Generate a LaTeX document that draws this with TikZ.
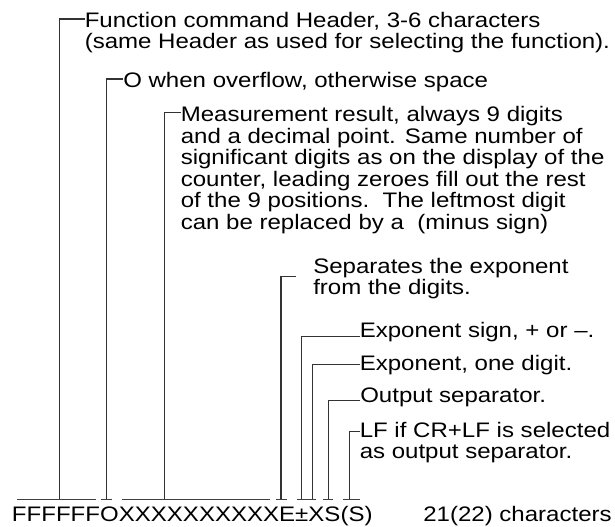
\documentclass[tikz,border=0pt]{standalone}
\usepackage{fontspec}
\setmainfont{Liberation Sans}[FakeStretch=1.145]
\usepackage{tikz}
\begin{document}
\begin{tikzpicture}[
    x=0.75pt, y=-0.75pt,
    note/.style={anchor=north west, inner sep=0pt, align=left,
      font=\fontsize{15.75pt}{16.1pt}\selectfont},
    code/.style={anchor=base west, inner sep=0pt,
      font=\fontsize{15.75pt}{16.1pt}\selectfont},
    bar/.style={draw=black!75, line width=0.8pt},
    lead/.style={draw=black!80, line width=0.8pt}
  ]
  \useasboundingbox (0,0) rectangle (615,527);

  % the output string
  \node[code] (str) at (11.7,521.7) {FFFFFFOXXXXXXXXXXE±XS(S)};
  \node[code] (count) at (423,521.7) {21(22) characters};

  % bars under each field
  \draw[bar] (17,499.5) -- (96,499.5);
  \draw[bar] (101,499.5) -- (112,499.5);
  \draw[bar] (122,499.5) -- (270,499.5);
  \draw[bar] (276,499.5) -- (287,499.5);
  \draw[bar] (297,499.5) -- (307,499.5);
  \draw[bar] (307,499.5) -- (316,499.5);
  \draw[bar] (323,499.5) -- (333,499.5);
  \draw[bar] (343,499.5) -- (360,499.5);
  \coordinate (hdrb) at (59.3,499.5);
  \coordinate (ovfb) at (106.7,499.5);
  \coordinate (measb) at (164.3,499.5);
  \coordinate (expb) at (281,499.5);
  \coordinate (signb) at (301.7,499.5);
  \coordinate (digb) at (312.3,499.5);
  \coordinate (sepb) at (328.3,499.5);
  \coordinate (lfb) at (349.5,499.5);

  % notes
  \node[note] (hdr) at (84.5,12) {Function command Header, 3-6 characters\\
    (same Header as used for selecting the function).};
  \node[note] (ovf) at (123,72) {O when overflow, otherwise space};
  \node[note] (meas) at (180.5,106.4) {Measurement result, always 9 digits\\
    and a decimal point. Same number of\\
    significant digits as on the display of the\\
    counter, leading zeroes fill out the rest\\
    of the 9 positions.\ \ The leftmost digit\\
    can be replaced by a\ \ (minus sign)};
  \node[note] (exp) at (313,257.7) {Separates the exponent\\from the digits.};
  \node[note] (sign) at (359.5,321.7) {Exponent sign, + or –.};
  \node[note] (dig) at (359.5,354.7) {Exponent, one digit.};
  \node[note] (sep) at (360,387.7) {Output separator.};
  \node[note] (lf) at (359.5,421.7) {LF if CR+LF is selected\\as output separator.};

  % leaders
  \draw[lead] (hdrb) |- ([yshift=-7*0.75pt]hdr.north west);
  \draw[lead] (ovfb) |- ([yshift=-7*0.75pt]ovf.north west);
  \draw[lead] (measb) |- ([yshift=-6*0.75pt]meas.north west);
  \draw[lead] (expb) |- ([shift={(-17,19)}]exp.north west);
  \draw[lead] (signb) |- ([yshift=-15*0.75pt]sign.north west);
  \draw[lead] (digb) |- ([yshift=-10*0.75pt]dig.north west);
  \draw[lead] (sepb) |- ([yshift=-13*0.75pt]sep.north west);
  \draw[lead] (lfb) |- ([yshift=-10*0.75pt]lf.north west);
\end{tikzpicture}
\end{document}
